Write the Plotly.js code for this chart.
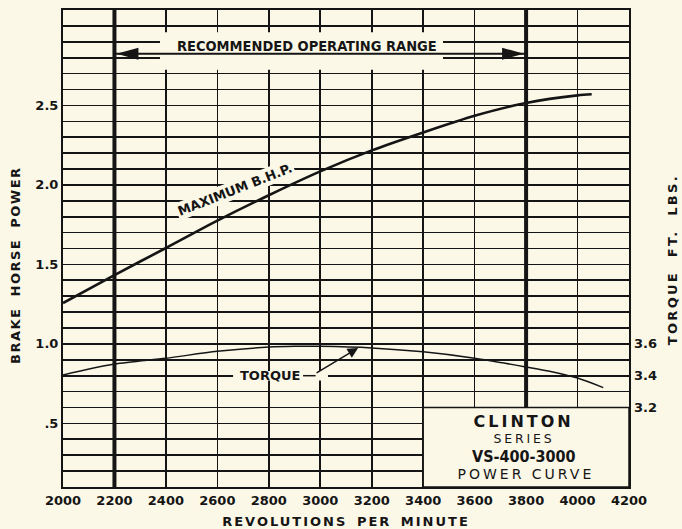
<!DOCTYPE html>
<html>
<head>
<meta charset="utf-8">
<script src="https://cdn.plot.ly/plotly-3.0.1.min.js"></script>
<style>
  html, body { margin: 0; padding: 0; background: #fcf8e8; }
  #chart { width: 682px; height: 529px; }
</style>
</head>
<body>
<div id="chart"></div>
<script>
// ---- data ----
const rpmBHP = [2000, 2200, 2400, 2600, 2800, 3000, 3200, 3400, 3600, 3800, 4000, 4055];
const bhp    = [1.257, 1.433, 1.603, 1.775, 1.935, 2.085, 2.217, 2.33, 2.435, 2.515, 2.563, 2.57];

const rpmTorque = [2000, 2200, 2400, 2600, 2800, 2900, 3000, 3200, 3400, 3600, 3800, 3900, 4000, 4100];
const torque    = [3.405, 3.473, 3.51, 3.553, 3.58, 3.585, 3.585, 3.575, 3.55, 3.51, 3.455, 3.425, 3.385, 3.325];

const rangeRpm = [2200, 3800];

const xTickVals = [2000, 2200, 2400, 2600, 2800, 3000, 3200, 3400, 3600, 3800, 4000, 4200];
const xTickText = ['2000', '2200', '2400', '2600', '2800', '3000', '3200', '3400', '3600', '3800', '4000', '4200'];
const yLabelVals = [0.5, 1.0, 1.5, 2.0, 2.5];
const yLabelText = ['.5', '1.0', '1.5', '2.0', '2.5'];
const y2TickVals = [3.2, 3.4, 3.6];
const y2TickText = ['3.2', '3.4', '3.6'];

// ---- styling ----
const cream = '#fcf8e8';
const ink = '#151515';
const boldFont = { family: 'DejaVu Sans, Liberation Sans, sans-serif', size: 13, color: ink, weight: 'bold' };
const condBold = 'DejaVu Sans Condensed, Liberation Sans Narrow, DejaVu Sans, sans-serif';

// horizontal grid every 0.1 with labels only at selected values
const yGridVals = [];
const yGridText = [];
for (let i = 1; i <= 31; i++) {
  const v = i / 10;
  yGridVals.push(v);
  const k = yLabelVals.findIndex(l => Math.abs(l - v) < 1e-9);
  yGridText.push(k >= 0 ? yLabelText[k] : '');
}

const traces = [
  { x: rpmBHP, y: bhp, type: 'scatter', mode: 'lines', name: 'Maximum B.H.P.',
    line: { color: ink, width: 2.6, shape: 'spline', smoothing: 0.8 }, hoverinfo: 'skip' },
  { x: rpmTorque, y: torque, type: 'scatter', mode: 'lines', name: 'Torque', yaxis: 'y2',
    line: { color: ink, width: 1.5, shape: 'spline', smoothing: 0.8 }, hoverinfo: 'skip' }
];

const shapes = [];
rangeRpm.forEach(r => {
  shapes.push({ type: 'line', xref: 'x', yref: 'paper', x0: r, x1: r, y0: 0, y1: 1,
    line: { color: ink, width: 4 }, layer: 'between' });
});
// blank area behind the range caption
shapes.push({ type: 'rect', xref: 'x', yref: 'y', x0: 2377, x1: 3477, y0: 2.725, y1: 2.96,
  fillcolor: cream, line: { width: 0 }, layer: 'between' });
// range arrow
shapes.push({ type: 'line', xref: 'x', yref: 'y', x0: rangeRpm[0], x1: rangeRpm[1], y0: 2.825, y1: 2.825,
  line: { color: ink, width: 2 }, layer: 'above' });
shapes.push({ type: 'path', xref: 'x', yref: 'y', xsizemode: 'pixel', ysizemode: 'pixel',
  xanchor: rangeRpm[0], yanchor: 2.825, path: 'M2,0 L24,6 L24,-6 Z',
  fillcolor: ink, line: { width: 0 }, layer: 'above' });
shapes.push({ type: 'path', xref: 'x', yref: 'y', xsizemode: 'pixel', ysizemode: 'pixel',
  xanchor: rangeRpm[1], yanchor: 2.825, path: 'M-2,0 L-24,6 L-24,-6 Z',
  fillcolor: ink, line: { width: 0 }, layer: 'above' });
// title box lower right
shapes.push({ type: 'rect', xref: 'x', yref: 'y', x0: 3400, x1: 4200, y0: 0.1, y1: 0.6,
  fillcolor: cream, line: { color: ink, width: 1.5 }, layer: 'between' });
// blank behind TORQUE label + leader
shapes.push({ type: 'rect', xref: 'x', yref: 'y', x0: 2661, x1: 3030, y0: 0.77, y1: 0.83,
  fillcolor: cream, line: { width: 0 }, layer: 'between' });
shapes.push({ type: 'line', xref: 'x', yref: 'y', x0: 2933, x1: 2982, y0: 0.8, y1: 0.8,
  line: { color: ink, width: 1.5 }, layer: 'above' });

const annotations = [
  { text: 'RECOMMENDED OPERATING RANGE', x: 2948, y: 2.874, xref: 'x', yref: 'y', showarrow: false,
    font: { family: condBold, size: 14.5, color: ink, weight: 'bold' } },
  { text: 'MAXIMUM B.H.P.', x: 2669, y: 1.974, xref: 'x', yref: 'y', showarrow: false, textangle: -21.5,
    bgcolor: cream, borderpad: 1, font: { family: boldFont.family, size: 13, color: ink, weight: 'bold' } },
  { text: 'TORQUE', x: 2805, y: 0.8, xref: 'x', yref: 'y', showarrow: false,
    font: { family: boldFont.family, size: 13, color: ink, weight: 'bold' } },
  { text: '', x: 3147, y: 3.575, xref: 'x', yref: 'y2', showarrow: true, ax: -43, ay: 26,
    arrowhead: 2, arrowsize: 1.4, arrowwidth: 1.5, arrowcolor: ink, standoff: 0 },
  { text: 'CLINTON', x: 3790, y: 0.515, xref: 'x', yref: 'y', showarrow: false,
    font: { family: boldFont.family, size: 16, color: ink, weight: 'bold' } },
  { text: 'SERIES', x: 3790, y: 0.408, xref: 'x', yref: 'y', showarrow: false,
    font: { family: 'DejaVu Sans, sans-serif', size: 12.5, color: ink } },
  { text: 'VS-400-3000', x: 3790, y: 0.289, xref: 'x', yref: 'y', showarrow: false,
    font: { family: condBold, size: 16, color: ink, weight: 'bold' } },
  { text: 'POWER CURVE', x: 3800, y: 0.182, xref: 'x', yref: 'y', showarrow: false,
    font: { family: 'DejaVu Sans, sans-serif', size: 14, color: ink } },
  // axis titles (placed as annotations to match the reference's offset)
  { text: 'BRAKE HORSE POWER', xref: 'paper', yref: 'paper', x: 0, y: 0.465, xshift: -48,
    xanchor: 'center', yanchor: 'middle',
    textangle: -90, showarrow: false, font: boldFont },
  { text: 'TORQUE FT. LBS.', xref: 'paper', yref: 'paper', x: 1, y: 0.476, xshift: 44,
    xanchor: 'center', yanchor: 'middle',
    textangle: -90, showarrow: false, font: boldFont }
];

const layout = {
  width: 682, height: 529,
  margin: { l: 63, r: 53, t: 10, b: 42, pad: 0 },
  paper_bgcolor: cream, plot_bgcolor: cream,
  showlegend: false,
  xaxis: {
    range: [2000, 4200], tickmode: 'array', tickvals: xTickVals, ticktext: xTickText,
    showgrid: true, gridcolor: ink, gridwidth: 1.6, zeroline: false,
    showline: true, mirror: true, linecolor: ink, linewidth: 2, ticks: '',
    tickfont: boldFont,
    title: { text: 'REVOLUTIONS PER MINUTE', font: boldFont, standoff: 12 }
  },
  yaxis: {
    range: [0.1, 3.1], tickmode: 'array', tickvals: yGridVals, ticktext: yGridText,
    showgrid: true, gridcolor: ink, gridwidth: 1.6, zeroline: false,
    showline: true, mirror: true, linecolor: ink, linewidth: 2, ticks: '',
    tickfont: boldFont
  },
  yaxis2: {
    overlaying: 'y', side: 'right', range: [2.7, 5.7],
    tickmode: 'array', tickvals: y2TickVals, ticktext: y2TickText,
    showgrid: false, zeroline: false, showline: false, ticks: '',
    ticklabelstandoff: 4,
    tickfont: boldFont
  },
  shapes: shapes,
  annotations: annotations
};

function spaceOut() {
  const gd = document.getElementById('chart');
  const set = (sel, ls, ws) => {
    gd.querySelectorAll(sel).forEach(t => {
      t.setAttribute('letter-spacing', ls);
      if (ws) t.setAttribute('word-spacing', ws);
    });
  };
  set('.g-xtitle text', '2px', '3px');
  const byIdx = (i, ls, ws) => set('.annotation[data-index="' + i + '"] .annotation-text', ls, ws);
  byIdx(4, '3px');
  byIdx(5, '2.8px');
  byIdx(7, '3px');
  byIdx(8, '1.5px', '5px');
  byIdx(9, '2.3px', '7px');
}

Plotly.newPlot('chart', traces, layout, { staticPlot: true, displayModeBar: false }).then(spaceOut);
</script>
</body>
</html>
